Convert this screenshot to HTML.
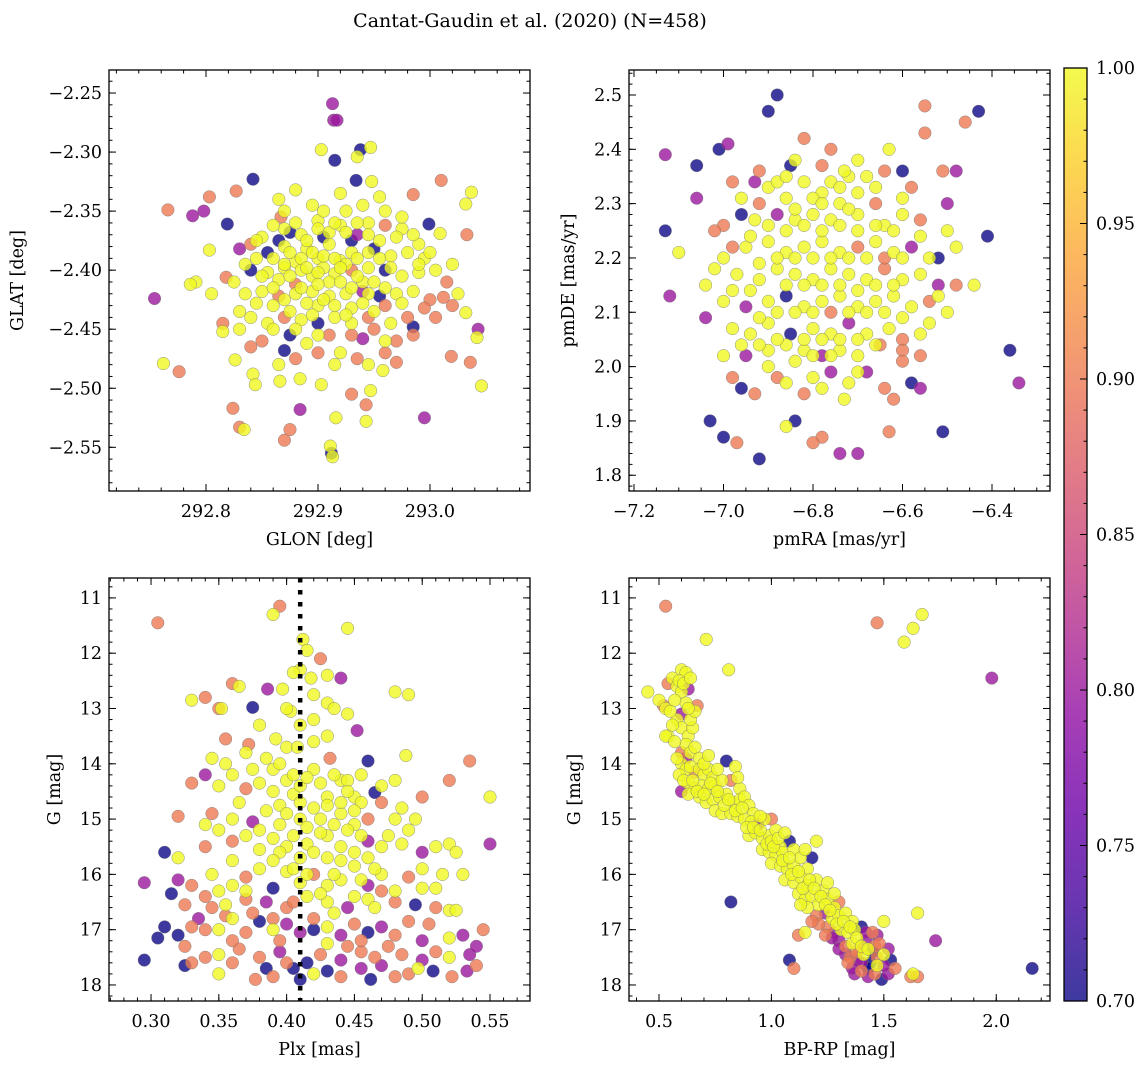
<!DOCTYPE html>
<html><head><meta charset="utf-8"><style>
body{margin:0;background:#fff}
svg{display:block;font-family:"DejaVu Serif","Liberation Serif",serif}
</style></head><body>
<svg id="fig" width="1148" height="1068" viewBox="0 0 1148 1068" xmlns="http://www.w3.org/2000/svg">
<text x="530" y="27" font-size="19" text-anchor="middle">Cantat-Gaudin et al. (2020) (N=458)</text>
</svg>
<script>
const glonGlat = [[292.754,-2.424,.8],[292.762,-2.479,1],[292.766,-2.349,.9],[292.776,-2.486,.9],[292.788,-2.354,.8],[292.798,-2.350,.8],[292.803,-2.338,.9],[292.827,-2.333,.9],[292.842,-2.323,.7],[292.819,-2.361,.7],[292.830,-2.382,.8],[292.818,-2.406,.9],[292.815,-2.445,.9],[292.824,-2.517,.9],[292.830,-2.533,.9],[292.834,-2.535,1],[292.867,-2.355,.9],[292.870,-2.544,.9],[292.875,-2.535,.9],[292.884,-2.518,.8],[292.912,-2.555,.7],[292.911,-2.549,1],[292.913,-2.558,1],[292.913,-2.259,.8],[292.914,-2.273,.8],[292.917,-2.273,.8],[292.915,-2.307,.7],[292.903,-2.298,1],[292.938,-2.298,.7],[292.935,-2.304,1],[292.947,-2.296,1],[292.934,-2.324,.7],[292.948,-2.325,1],[292.985,-2.336,.9],[293.010,-2.324,.9],[292.999,-2.361,.7],[293.009,-2.369,1],[293.033,-2.370,.9],[293.037,-2.334,1],[293.032,-2.344,1],[293.015,-2.410,.9],[293.012,-2.423,.9],[293.032,-2.436,1],[293.043,-2.450,.8],[293.042,-2.457,1],[293.019,-2.473,.9],[293.036,-2.478,.9],[293.046,-2.498,1],[292.995,-2.525,.8],[292.970,-2.478,.9],[292.943,-2.514,.9],[292.930,-2.505,.9],[292.943,-2.528,1],[292.947,-2.502,1],[292.958,-2.485,1],[292.916,-2.525,1],[292.903,-2.497,1],[292.884,-2.492,1],[292.866,-2.494,1],[292.842,-2.488,1],[292.844,-2.497,1],[292.826,-2.476,1],[292.815,-2.452,1],[292.805,-2.420,1],[292.791,-2.410,1],[292.786,-2.412,1],[292.803,-2.383,1],
[292.88,-2.36,1],[292.90,-2.358,1],[292.92,-2.362,1],[292.945,-2.36,1],[292.96,-2.362,.9],[292.87,-2.365,1],[292.935,-2.37,.8],[292.975,-2.365,1],
[292.85,-2.372,1],[292.865,-2.375,.7],[292.885,-2.37,1],[292.905,-2.372,.7],[292.925,-2.368,1],[292.955,-2.375,1],[292.97,-2.372,1],[292.84,-2.378,.9],[292.99,-2.378,1],
[292.855,-2.385,.7],[292.87,-2.38,1],[292.89,-2.382,1],[292.91,-2.378,1],[292.93,-2.385,1],[292.95,-2.382,.7],[292.965,-2.388,1],[292.98,-2.385,1],[292.995,-2.39,1],[292.845,-2.39,1],[292.9,-2.39,1],[292.92,-2.392,1],[292.88,-2.393,1],
[292.84,-2.40,.7],[292.855,-2.402,1],[292.87,-2.398,1],[292.885,-2.40,1],[292.895,-2.405,1],[292.905,-2.398,1],[292.915,-2.403,1],[292.93,-2.40,.9],[292.945,-2.398,1],[292.96,-2.40,.7],[292.975,-2.405,1],[292.99,-2.402,1],[293.005,-2.4,1],[292.865,-2.408,1],[292.91,-2.41,1],[292.94,-2.41,1],[292.88,-2.412,.9],
[292.835,-2.42,1],[292.85,-2.418,1],[292.865,-2.422,.9],[292.88,-2.42,1],[292.895,-2.418,1],[292.91,-2.422,1],[292.925,-2.42,1],[292.94,-2.418,.8],[292.955,-2.422,.7],[292.97,-2.42,1],[292.985,-2.418,1],[293.0,-2.425,.9],[292.86,-2.43,1],[292.9,-2.43,1],[292.93,-2.432,1],[292.96,-2.43,.9],
[292.84,-2.44,1],[292.855,-2.445,1],[292.87,-2.44,.9],[292.885,-2.442,1],[292.9,-2.445,.7],[292.915,-2.44,1],[292.93,-2.445,1],[292.945,-2.44,.9],[292.965,-2.445,1],[292.985,-2.448,.7],[292.875,-2.455,.7],[292.91,-2.455,.9],[292.94,-2.458,.8],[292.96,-2.46,1],[292.89,-2.462,1],[292.85,-2.46,.9],[292.92,-2.47,1],[292.87,-2.468,.7],[292.935,-2.475,.9],
[292.875,-2.385,1],[292.885,-2.39,1],[292.895,-2.385,1],[292.905,-2.388,1],[292.915,-2.39,1],[292.925,-2.395,1],[292.935,-2.39,1],[292.945,-2.385,1],[292.87,-2.395,1],[292.89,-2.398,1],[292.9,-2.402,1],[292.92,-2.398,1],[292.935,-2.405,1],[292.95,-2.41,1],[292.875,-2.405,1],[292.86,-2.415,1],[292.885,-2.415,1],[292.9,-2.412,1],[292.92,-2.41,1],[292.93,-2.415,1],[292.945,-2.42,1],[292.87,-2.425,1],[292.89,-2.428,1],[292.905,-2.425,1],[292.915,-2.43,1],[292.94,-2.428,1],[292.95,-2.435,1],[292.875,-2.435,1],[292.895,-2.438,1],[292.925,-2.438,1],[292.86,-2.39,1],[292.85,-2.405,1],[292.845,-2.428,1],[292.96,-2.415,1],[292.975,-2.428,1],[292.98,-2.44,.9],[292.995,-2.432,.9],[293.005,-2.44,.9],[293.02,-2.43,.9],[293.025,-2.42,1],[292.99,-2.395,1],[293.0,-2.385,1],[292.985,-2.37,1],[293.02,-2.395,1],[292.9,-2.365,1],[292.91,-2.368,1],[292.89,-2.375,1],[292.875,-2.368,.7],[292.93,-2.375,.7],[292.945,-2.37,1],[292.955,-2.39,1],[292.965,-2.398,1],[292.86,-2.45,1],[292.88,-2.45,1],[292.9,-2.455,1],[292.93,-2.455,.9],[292.95,-2.45,.9],[292.97,-2.46,.9],[292.985,-2.455,.9],[292.96,-2.47,.9],[292.945,-2.48,1],[292.915,-2.48,1],[292.9,-2.47,.9],[292.88,-2.475,.9],[292.865,-2.48,1],[292.84,-2.465,.9],[292.83,-2.45,1],[292.83,-2.435,1],[292.825,-2.41,1],[292.835,-2.395,1],[292.845,-2.375,1],[292.86,-2.362,1],[292.87,-2.35,1],[292.895,-2.345,1],[292.905,-2.35,1],[292.925,-2.35,1],[292.94,-2.345,1],[292.96,-2.35,1],[292.975,-2.355,1],[292.865,-2.34,1],[292.88,-2.332,1],[292.92,-2.335,1],[292.955,-2.338,1],[292.935,-2.36,1],[292.915,-2.36,1]];

const pmraPmde = [[-7.13,2.39,.8],[-7.13,2.25,.7],[-7.12,2.13,.8],[-7.10,2.21,1],[-7.06,2.37,.7],[-7.06,2.31,.8],[-7.03,1.90,.7],[-7.01,2.40,.7],[-6.99,2.41,.8],[-7.0,1.87,.7],[-6.97,1.86,.9],[-6.92,1.83,.7],[-6.88,2.50,.7],[-6.9,2.47,.7],[-6.43,2.47,.7],[-6.46,2.45,.9],[-6.55,2.48,.9],[-6.55,2.43,.9],[-6.41,2.24,.7],[-6.36,2.03,.7],[-6.34,1.97,.8],[-6.51,1.88,.7],[-6.56,1.96,.8],[-6.58,1.97,.7],[-6.7,1.84,.8],[-6.74,1.84,.8],[-6.78,1.87,.9],[-6.8,1.86,.9],[-6.84,1.90,.7],[-6.86,1.89,1],[-6.63,1.88,.9],[-6.62,1.94,.9],[-6.5,2.30,.8],[-6.48,2.36,.8],[-6.51,2.36,.9],[-6.44,2.15,1],[-6.48,2.22,1],[-6.52,2.20,.7],[-6.6,2.36,.7],[-6.63,2.40,1],[-6.76,2.40,.9],[-6.82,2.42,.9],[-6.85,2.37,.7],[-6.93,2.34,.8],[-6.96,2.28,.7],
[-6.9,2.33,1],[-6.82,2.34,1],[-6.72,2.35,1],[-6.66,2.33,1],[-6.92,2.3,.9],[-6.78,2.32,1],[-6.74,2.3,1],[-6.86,2.31,1],[-6.96,2.31,1],
[-7.0,2.26,.9],[-6.93,2.27,1],[-6.88,2.28,.8],[-6.84,2.27,1],[-6.8,2.28,1],[-6.76,2.27,1],[-6.7,2.28,1],[-6.64,2.26,1],[-6.6,2.28,1],[-6.56,2.27,.9],[-6.5,2.25,1],[-6.98,2.22,.9],
[-6.95,2.22,1],[-6.9,2.23,1],[-6.86,2.21,1],[-6.82,2.22,1],[-6.78,2.23,1],[-6.74,2.21,1],[-6.7,2.22,.9],[-6.66,2.23,1],[-6.62,2.21,1],[-6.58,2.22,.8],[-6.54,2.2,1],[-7.02,2.18,1],
[-6.97,2.17,1],[-6.92,2.16,1],[-6.88,2.18,1],[-6.84,2.17,1],[-6.8,2.16,1],[-6.76,2.18,1],[-6.72,2.17,1],[-6.68,2.16,1],[-6.64,2.18,.9],[-6.6,2.16,1],[-6.56,2.17,1],[-6.52,2.15,.8],[-6.48,2.15,.9],
[-7.0,2.12,1],[-6.95,2.11,.8],[-6.9,2.12,1],[-6.86,2.13,.7],[-6.82,2.11,1],[-6.78,2.12,1],[-6.74,2.13,1],[-6.7,2.11,1],[-6.66,2.12,1],[-6.62,2.13,1],[-6.58,2.11,1],[-6.54,2.12,.9],[-6.5,2.1,1],[-7.04,2.09,.8],
[-6.98,2.07,1],[-6.94,2.06,1],[-6.9,2.08,1],[-6.85,2.06,.7],[-6.8,2.07,1],[-6.76,2.06,1],[-6.72,2.08,.8],[-6.68,2.06,1],[-6.63,2.07,1],[-6.6,2.05,.9],[-6.56,2.06,1],[-7.0,2.02,1],
[-6.95,2.02,.8],[-6.9,2.03,1],[-6.86,2.04,1],[-6.82,2.03,1],[-6.78,2.02,.8],[-6.74,2.03,1],[-6.7,2.02,1],[-6.65,2.04,.9],[-6.6,2.03,.9],[-6.98,1.98,.9],[-6.88,1.98,.9],[-6.8,1.98,1],[-6.76,1.99,.8],[-6.72,1.97,1],[-6.68,1.99,.8],[-6.93,1.95,.9],[-6.82,1.95,.9],[-6.73,1.94,1],[-6.64,1.96,.9],[-6.96,1.96,.7],
[-6.84,2.38,1],[-6.78,2.37,.9],[-6.7,2.38,1],[-6.73,2.36,1],[-6.92,2.36,.9],
[-6.88,2.34,1],[-6.8,2.31,1],[-6.76,2.34,1],[-6.7,2.32,1],[-6.84,2.29,1],[-6.78,2.3,1],[-6.72,2.29,1],[-6.66,2.3,.9],[-6.9,2.26,1],[-6.86,2.25,1],[-6.82,2.26,1],[-6.78,2.25,1],[-6.74,2.26,1],[-6.7,2.25,1],[-6.66,2.26,1],[-6.62,2.25,1],[-6.94,2.24,1],[-6.88,2.2,1],[-6.84,2.2,1],[-6.8,2.2,1],[-6.76,2.2,1],[-6.72,2.2,1],[-6.68,2.2,1],[-6.64,2.2,.9],[-6.6,2.2,1],[-6.92,2.19,1],[-6.86,2.15,1],[-6.82,2.15,1],[-6.78,2.15,1],[-6.74,2.15,1],[-6.7,2.14,1],[-6.66,2.15,1],[-6.62,2.15,1],[-6.94,2.14,1],[-6.88,2.1,1],[-6.84,2.1,1],[-6.8,2.1,1],[-6.76,2.1,.9],[-6.72,2.1,1],[-6.68,2.1,1],[-6.64,2.1,1],[-6.6,2.09,1],[-6.92,2.09,1],[-6.88,2.05,1],[-6.82,2.05,1],[-6.78,2.05,1],[-6.74,2.05,1],[-6.7,2.05,1],[-6.66,2.04,1],[-6.92,2.04,1],[-6.84,2.01,1],[-6.8,2.02,1],[-6.76,2.02,1],[-6.7,1.99,1],[-6.9,2.0,1],[-6.86,1.97,1],[-6.78,1.96,1],[-6.6,2.01,.9],[-6.56,2.02,.9],[-6.54,2.08,1],[-6.52,2.13,1],[-6.56,2.24,1],[-6.6,2.31,1],[-6.58,2.33,.9],[-6.64,2.36,.9],[-6.98,2.14,1],[-7.0,2.2,1],[-7.04,2.15,1],[-7.02,2.25,.9],[-6.96,2.04,1],[-6.98,2.34,.9],[-6.86,2.35,1],[-6.74,2.33,1],[-6.68,2.35,1]];

const plxG = [[0.305,11.45,.9],[0.39,11.3,1],[0.395,11.15,.9],[0.412,11.75,1],[0.415,11.95,1],[0.445,11.55,1],[0.41,12.3,1],[0.405,12.35,1],[0.418,12.45,1],[0.425,12.1,.9],[0.43,12.4,1],[0.44,12.45,.8],[0.36,12.55,.9],[0.365,12.6,1],[0.386,12.65,.8],[0.397,12.65,1],[0.33,12.85,1],[0.34,12.8,.9],[0.35,13.0,.9],[0.352,13.0,1],[0.375,12.98,.7],[0.42,12.75,1],[0.43,12.9,1],[0.435,13.0,1],[0.48,12.7,1],[0.49,12.75,1],[0.403,13.05,1],[0.41,13.3,1],
[0.355,13.55,.9],[0.372,13.65,.9],[0.392,13.55,1],[0.4,13.7,1],[0.408,13.7,1],[0.42,13.6,1],[0.43,13.5,1],[0.452,13.4,.8],[0.345,13.9,1],[0.355,14.0,1],[0.385,13.9,1],[0.39,14.1,1],[0.395,14.0,1],[0.42,14.1,1],[0.432,13.9,.9],[0.44,14.3,1],[0.445,14.3,1],[0.46,13.95,.7],[0.488,13.85,1],[0.34,14.2,.8],[0.33,14.35,.9],[0.35,14.4,1],[0.36,14.2,1],[0.37,14.45,.9],[0.38,14.35,1],[0.39,14.5,1],[0.4,14.3,1],[0.405,14.55,1],[0.41,14.4,1],[0.43,14.6,1],[0.45,14.6,1],[0.455,14.7,1],[0.465,14.52,.7],[0.47,14.7,.9],[0.5,14.6,.9],[0.55,14.6,1],[0.535,13.95,.9],[0.52,14.3,.9],
[0.32,14.95,.9],[0.345,14.9,.9],[0.36,15.0,1],[0.375,15.05,.8],[0.385,14.85,1],[0.395,15.1,1],[0.41,15.0,1],[0.425,15.0,1],[0.44,14.9,1],[0.45,15.1,1],[0.46,15.0,.9],[0.48,15.0,1],[0.495,15.0,1],[0.51,15.5,1],[0.52,15.45,1],[0.525,15.6,1],[0.55,15.45,.8],[0.31,15.6,.7],[0.32,15.7,1],[0.34,15.5,.9],[0.36,15.4,.9],[0.38,15.55,1],[0.39,15.35,1],[0.4,15.5,1],[0.415,15.45,1],[0.43,15.3,1],[0.44,15.5,1],[0.46,15.4,.8],[0.47,15.5,1],[0.485,15.45,1],[0.5,15.6,.8],
[0.295,16.15,.8],[0.315,16.35,.7],[0.32,16.1,.8],[0.345,16.0,1],[0.36,16.2,1],[0.37,16.05,.9],[0.38,15.9,1],[0.39,16.25,.7],[0.4,15.95,1],[0.41,16.15,1],[0.42,16.0,.9],[0.43,16.2,1],[0.44,16.1,1],[0.45,15.85,1],[0.46,16.2,.8],[0.47,16.0,1],[0.48,16.3,1],[0.49,16.05,.9],[0.5,16.25,1],[0.51,16.25,1],[0.34,16.4,.9],[0.355,16.55,1],[0.37,16.45,.9],[0.385,16.5,.8],[0.4,16.6,.9],[0.415,16.4,1],[0.43,16.5,1],[0.445,16.6,.8],[0.46,16.45,1],[0.48,16.5,.9],[0.495,16.55,.7],[0.52,16.65,1],[0.525,16.65,1],
[0.31,16.95,.7],[0.32,17.1,.7],[0.33,16.95,.9],[0.34,17.0,.9],[0.35,17.0,1],[0.36,16.8,1],[0.37,17.05,.9],[0.38,16.85,.7],[0.39,17.0,1],[0.40,16.9,.8],[0.42,17.0,.7],[0.43,16.95,1],[0.44,17.1,.8],[0.45,16.9,.9],[0.46,17.05,.7],[0.47,16.95,.8],[0.48,17.1,.9],[0.5,17.2,.8],[0.52,17.15,1],[0.53,17.1,.8],[0.545,17.0,.9],[0.305,17.15,.7],[0.325,17.3,.9],[0.34,17.5,.9],[0.35,17.45,1],[0.365,17.35,.9],[0.38,17.5,.9],[0.395,17.4,.8],[0.415,17.6,.7],[0.425,17.45,.9],[0.44,17.55,.8],[0.455,17.4,.9],[0.47,17.65,.8],[0.485,17.45,.9],[0.5,17.55,.8],[0.52,17.5,1],[0.535,17.45,.8],[0.54,17.3,.8],
[0.295,17.55,.7],[0.325,17.65,.7],[0.35,17.8,1],[0.377,17.9,.9],[0.39,17.85,.9],[0.41,17.9,.7],[0.42,17.8,1],[0.43,17.75,.7],[0.44,17.85,.9],[0.462,17.9,.7],[0.48,17.85,.9],[0.497,17.7,1],[0.508,17.75,.7],[0.522,17.85,.9],[0.533,17.75,.8],[0.385,17.7,.7],[0.405,17.7,.7],[0.455,17.7,.8],
[0.405,14.2,1],[0.415,14.25,1],[0.425,14.35,1],[0.435,14.2,1],[0.445,14.5,1],[0.41,14.7,1],[0.42,14.8,1],[0.43,14.75,1],[0.44,14.7,1],[0.45,14.85,1],[0.395,14.75,1],[0.4,14.9,1],[0.415,15.15,1],[0.425,15.25,1],[0.435,15.1,1],[0.445,15.2,1],[0.455,15.3,1],[0.405,15.3,1],[0.395,15.6,1],[0.41,15.7,1],[0.42,15.6,1],[0.43,15.7,1],[0.44,15.75,1],[0.45,15.6,1],[0.46,15.7,1],[0.405,15.9,1],[0.415,16.0,1],[0.425,16.35,1],[0.435,16.0,1],[0.455,16.1,1],[0.465,15.9,1],[0.47,16.3,.9],[0.39,15.75,1],[0.38,15.2,1],[0.37,15.3,1],[0.365,14.7,1],[0.375,14.1,1],[0.37,13.8,1],[0.38,13.3,1],[0.4,13.0,1],[0.42,13.2,1],[0.445,13.1,1],[0.455,14.2,1],[0.47,14.4,1],[0.48,14.3,1],[0.485,14.8,1],[0.49,15.2,1],[0.475,15.3,1],[0.465,16.6,1],[0.45,16.4,1],[0.435,16.7,1],[0.42,16.8,.9],[0.405,16.5,.9],[0.39,16.8,.9],[0.375,16.7,.9],[0.355,16.75,.9],[0.345,16.6,.9],[0.335,16.8,.8],[0.36,17.2,.9],[0.395,17.2,.9],[0.41,17.05,.8],[0.455,17.2,.9],[0.475,17.3,.9],[0.49,16.85,.9],[0.505,16.9,.9],[0.51,16.6,.9],[0.51,17.4,.9],[0.33,17.6,.9],[0.36,17.6,.9],[0.4,17.6,.9],[0.43,17.25,1],[0.445,17.3,.9],[0.465,17.5,.9],[0.49,17.8,.9],[0.54,17.65,.9],[0.53,16.0,1],[0.515,16.0,1],[0.5,15.9,1],[0.37,16.3,1],[0.35,16.3,1],[0.33,16.2,.9],[0.325,16.55,.9],[0.36,15.75,1],[0.35,15.2,1],[0.34,15.1,1]];

const bprpG = [[0.45,12.7,1],[0.5,12.85,1],[0.52,12.95,.9],[0.53,13.0,1],[0.54,12.55,.9],[0.56,12.45,1],[0.58,12.6,1],[0.6,12.3,1],[0.6,12.7,1],[0.62,12.35,1],[0.63,12.65,.8],[0.62,12.9,1],[0.6,13.1,.8],[0.58,13.2,1],[0.54,13.5,1],[0.53,13.5,1],[0.6,13.35,1],[0.63,13.5,1],[0.65,13.35,1],[0.67,12.95,.9],[0.62,13.65,1],[0.6,13.8,.9],[0.62,13.9,.8],[0.64,13.8,1],[0.66,13.7,1],[0.68,13.9,1],
[0.6,14.0,1],[0.62,14.1,1],[0.64,14.05,1],[0.66,14.15,.9],[0.68,14.1,1],[0.7,14.2,1],[0.72,14.1,1],[0.74,14.25,1],[0.6,14.5,.8],[0.63,14.35,1],[0.66,14.45,1],[0.69,14.4,1],[0.72,14.45,1],[0.75,14.4,1],[0.78,14.3,1],[0.8,13.95,.7],[0.84,14.05,1],[0.82,14.3,.9],[0.86,14.45,1],[0.68,14.6,1],[0.71,14.7,1],[0.74,14.65,1],[0.77,14.6,1],[0.8,14.55,1],[0.83,14.7,1],[0.86,14.65,1],[0.88,14.6,1],[0.9,14.75,1],[0.92,14.9,1],
[0.75,14.85,1],[0.78,14.9,1],[0.82,14.9,1],[0.85,14.95,1],[0.88,15.0,1],[0.91,15.05,1],[0.94,15.1,.8],[0.97,15.0,1],[0.9,15.3,1],[0.93,15.25,1],[0.96,15.35,1],[0.99,15.3,1],[1.0,15.0,.9],[1.02,15.2,1],[1.04,15.5,1],[0.96,15.55,1],[0.99,15.6,1],[1.02,15.65,1],[1.05,15.6,1],[1.08,15.4,.7],[1.1,15.55,1],[1.2,15.4,1],[1.0,15.8,1],[1.04,15.85,1],[1.07,15.9,1],[1.1,15.85,1],[1.13,15.7,1],[1.16,15.9,1],[1.18,15.7,.7],
[1.06,16.1,1],[1.1,16.15,1],[1.13,16.05,1],[1.16,16.2,1],[1.2,16.1,1],[1.23,16.3,1],[1.12,16.35,1],[1.15,16.45,1],[1.18,16.4,1],[1.21,16.55,1],[1.25,16.45,1],[1.28,16.6,1],[1.3,16.5,.9],[1.2,16.75,.9],[1.24,16.7,.8],[1.27,16.8,1],[1.3,16.75,1],[1.33,16.7,1],[1.36,16.85,1],[1.25,16.95,.9],[1.28,17.05,.8],[1.31,17.0,1],[1.34,17.05,1],[1.37,17.0,1],[1.4,16.95,.7],[1.5,16.85,1],[1.47,17.1,.8],
[1.12,17.1,.9],[1.15,17.05,1],[1.3,17.2,.8],[1.33,17.3,.9],[1.36,17.25,1],[1.39,17.35,.9],[1.42,17.2,.8],[1.45,17.4,.7],[1.35,17.5,.9],[1.38,17.55,.8],[1.41,17.45,1],[1.44,17.6,.7],[1.47,17.5,.9],[1.5,17.45,1],[1.53,17.55,.7],[1.4,17.75,.9],[1.43,17.85,.8],[1.46,17.8,.9],[1.49,17.9,.7],[1.52,17.8,.8],[1.55,17.7,.9],[1.37,17.8,.8],[1.47,17.65,1],
[0.53,11.15,.9],[0.71,11.75,1],[0.81,12.3,1],[1.47,11.45,.9],[1.59,11.8,1],[1.63,11.55,1],[1.67,11.3,1],[1.98,12.45,.8],[2.16,17.7,.7],[1.73,17.2,.8],[1.65,16.7,1],[0.82,16.5,.7],[1.08,17.55,.7],[1.1,17.7,.9],[1.62,17.85,.9],[1.65,17.85,.9],[1.63,17.8,1],
[0.56,13.3,1],[0.57,13.6,1],[0.58,13.9,1],[0.59,14.2,1],[0.61,14.3,1],[0.63,14.55,1],[0.65,14.3,1],[0.67,14.5,1],[0.7,14.55,1],[0.73,14.35,1],[0.76,14.5,1],[0.79,14.75,1],[0.81,14.65,1],[0.84,14.85,1],[0.87,14.8,1],[0.89,15.15,1],[0.92,15.15,1],[0.95,15.2,1],[0.98,15.45,1],[1.0,15.4,1],[1.01,15.5,1],[1.03,15.35,1],[1.05,15.75,1],[1.08,15.7,1],[1.09,16.0,1],[1.12,15.95,1],[1.14,16.25,1],[1.17,16.1,1],[1.19,16.25,1],[1.22,16.4,1],[1.24,16.55,1],[1.26,16.65,1],[1.29,16.9,1],[1.32,16.85,1],[1.35,16.95,1],[1.38,17.15,1],[1.4,17.3,1],[1.43,17.35,1],[1.46,17.3,.9],[1.38,17.4,.9],[1.33,17.45,.8],[1.3,17.35,.8],[1.27,17.15,.8],[1.24,17.1,.9],[1.21,16.9,.9],[1.18,16.85,.9],[1.16,16.6,1],[1.13,16.55,1],[1.4,17.6,.8],[1.43,17.7,.7],[1.36,17.7,.8],[1.34,17.6,.9],[1.5,17.65,.8],[1.52,17.35,.8],[1.48,17.25,.9],[1.45,17.05,.9],[1.42,17.05,.8],[0.64,13.2,1],[0.66,13.05,1],[0.63,13.0,1],[0.57,12.85,1],[0.55,13.05,1],[0.59,12.5,1],[0.61,12.55,1],[0.64,12.45,1],[0.7,14.0,1],[0.72,13.85,1],[0.76,14.1,1],[0.85,14.25,1],[0.95,14.95,1],[1.06,15.25,1],[1.15,15.55,1],[1.25,16.15,1],[1.28,16.35,1]];

const ticks1X = [292.8, 292.9, 293.0];
const ticks1Y = [-2.25,-2.30,-2.35,-2.40,-2.45,-2.50,-2.55];
const ticks2X = [-7.2,-7.0,-6.8,-6.6,-6.4];
const ticks2Y = [1.8,1.9,2.0,2.1,2.2,2.3,2.4,2.5];
const ticks3X = [0.30,0.35,0.40,0.45,0.50,0.55];
const ticksG = [11,12,13,14,15,16,17,18];
const ticks4X = [0.5,1.0,1.5,2.0];
const cbarTicks = [0.70,0.75,0.80,0.85,0.90,0.95,1.00];
const plxLine = 0.41;

const NS='http://www.w3.org/2000/svg';
const svg=document.getElementById('fig');
const FS=17.5;
function mk(tag,attrs,parent){const e=document.createElementNS(NS,tag);for(const k in attrs)e.setAttribute(k,attrs[k]);(parent||svg).appendChild(e);return e;}
const plasma=['#0d0887','#41049d','#6a00a8','#8f0da4','#b12a90','#cc4778','#e16462','#f2844b','#fca636','#fcce25','#f0f921'];
function hex(h){return [1,3,5].map(i=>parseInt(h.substr(i,2),16));}
function cmap(p){let t=(p-0.7)/0.3;t=Math.max(0,Math.min(1,t));const s=t*10,i=Math.min(9,Math.floor(s)),f=s-i;const a=hex(plasma[i]),b=hex(plasma[i+1]);return 'rgb('+a.map((v,k)=>Math.round(v+(b[k]-v)*f)).join(',')+')';}
function fmt(v,d){return (v<0?'\u2212':'')+Math.abs(v).toFixed(d);}

function panel(o){
  const {name,x0,x1,y0,y1,px0,px1,py0,py1}=o;
  const sx=v=>px0+(v-x0)/(x1-x0)*(px1-px0);
  const sy=v=>py0+(v-y0)/(y1-y0)*(py1-py0);
  const g=mk('g',{});
  
  
  const cp='clip-'+name;
  const cl=mk('clipPath',{id:cp},g);mk('rect',{x:px0,y:py0,width:px1-px0,height:py1-py0},cl);
  const pg=mk('g',{'clip-path':'url(#'+cp+')'},g);
  const pts=o.data.slice().sort((a,b)=>a[2]-b[2]);
  pts.forEach(d=>{const c=mk('circle',{cx:sx(d[0]).toFixed(1),cy:sy(d[1]).toFixed(1),r:6.3,fill:cmap(d[2]),'fill-opacity':0.8,stroke:'#777','stroke-width':0.5,'stroke-opacity':0.8},pg);
    
    });
  if(o.vline!==undefined){const l=mk('line',{x1:sx(o.vline),x2:sx(o.vline),y1:py0,y2:py1,stroke:'#000','stroke-width':4.5,'stroke-dasharray':'4.5 7.5'},pg);
    
    }
  const tk=(x1a,y1a,x2a,y2a)=>mk('line',{x1:x1a,y1:y1a,x2:x2a,y2:y2a,stroke:'#000','stroke-width':1},g);
  const lo=Math.min(x0,x1),hi=Math.max(x0,x1);
  for(let k=Math.ceil(lo/o.mx-1e-6);k*o.mx<=hi+1e-9;k++){const X=sx(k*o.mx);tk(X,py1,X,py1-3.5);tk(X,py0,X,py0+3.5);}
  const ylo=Math.min(y0,y1),yhi=Math.max(y0,y1);
  for(let k=Math.ceil(ylo/o.my-1e-6);k*o.my<=yhi+1e-9;k++){const Y=sy(k*o.my);tk(px0,Y,px0+3.5,Y);tk(px1,Y,px1-3.5,Y);}
  o.tx.forEach(v=>{const X=sx(v);tk(X,py1,X,py1-7);tk(X,py0,X,py0+7);
    const t=mk('text',{x:X,y:py1+26,'font-size':FS,'text-anchor':'middle'},g);t.textContent=fmt(v,o.dx);
    
    });
  o.ty.forEach(v=>{const Y=sy(v);tk(px0,Y,px0+7,Y);tk(px1,Y,px1-7,Y);
    const t=mk('text',{x:px0-7,y:Y+6,'font-size':FS,'text-anchor':'end'},g);t.textContent=fmt(v,o.dy);
    
    });
  mk('rect',{x:px0,y:py0,width:px1-px0,height:py1-py0,fill:'none',stroke:'#000','stroke-width':1.3},g);
  const xl=mk('text',{x:(px0+px1)/2,y:py1+54,'font-size':FS,'text-anchor':'middle'},g);xl.textContent=o.xlab;
  
  
  const yx=o.ylx,yc=(py0+py1)/2;
  const yl=mk('text',{x:yx,y:yc,'font-size':FS,'text-anchor':'middle',transform:'rotate(-90 '+yx+' '+yc+')'},g);yl.textContent=o.ylab;
  
  
}
panel({name:'glon-glat-panel',data:glonGlat,x0:292.7134,x1:293.0893,y0:-2.2305,y1:-2.587,px0:109,px1:530,py0:70,py1:491,mx:0.02,my:0.01,tx:ticks1X,ty:ticks1Y,dx:1,dy:2,xlab:'GLON [deg]',ylab:'GLAT [deg]',ylx:23});
panel({name:'proper-motion-panel',data:pmraPmde,x0:-7.2112,x1:-6.2704,y0:2.546,y1:1.771,px0:629,px1:1050,py0:70,py1:491,mx:0.05,my:0.02,tx:ticks2X,ty:ticks2Y,dx:1,dy:1,xlab:'pmRA [mas/yr]',ylab:'pmDE [mas/yr]',ylx:574});
panel({name:'parallax-magnitude-panel',data:plxG,x0:0.2690,x1:0.5795,y0:10.64,y1:18.29,px0:109,px1:530,py0:578,py1:1001,mx:0.01,my:0.2,tx:ticks3X,ty:ticksG,dx:2,dy:0,xlab:'Plx [mas]',ylab:'G [mag]',ylx:60,vline:plxLine});
panel({name:'color-magnitude-panel',data:bprpG,x0:0.3666,x1:2.239,y0:10.64,y1:18.29,px0:629,px1:1050,py0:578,py1:1001,mx:0.1,my:0.2,tx:ticks4X,ty:ticksG,dx:1,dy:0,xlab:'BP-RP [mag]',ylab:'G [mag]',ylx:580});

const cb=mk('g',{});


const defs=mk('defs',{},cb);
const lg=mk('linearGradient',{id:'cbg',x1:0,y1:1,x2:0,y2:0},defs);
plasma.forEach((c,i)=>mk('stop',{offset:i/10,'stop-color':c},lg));
const cbTop=68,cbBot=1001,cbL=1064,cbR=1087;
const cy=v=>cbBot-(v-0.7)/0.3*(cbBot-cbTop);
mk('rect',{x:cbL,y:cbTop,width:cbR-cbL,height:cbBot-cbTop,fill:'url(#cbg)','fill-opacity':0.8},cb);
for(let k=70;k<=100;k++){const Y=cy(k/100);mk('line',{x1:cbR,x2:cbR-3.5,y1:Y,y2:Y,stroke:'#000','stroke-width':1},cb);}
cbarTicks.forEach(v=>{const Y=cy(v);mk('line',{x1:cbR,x2:cbR-7,y1:Y,y2:Y,stroke:'#000','stroke-width':1},cb);
  const t=mk('text',{x:cbR+9,y:Y+6,'font-size':FS},cb);t.textContent=v.toFixed(2);
  
  });
mk('rect',{x:cbL,y:cbTop,width:cbR-cbL,height:cbBot-cbTop,fill:'none',stroke:'#000','stroke-width':1.3},cb);
</script>
</body></html>
